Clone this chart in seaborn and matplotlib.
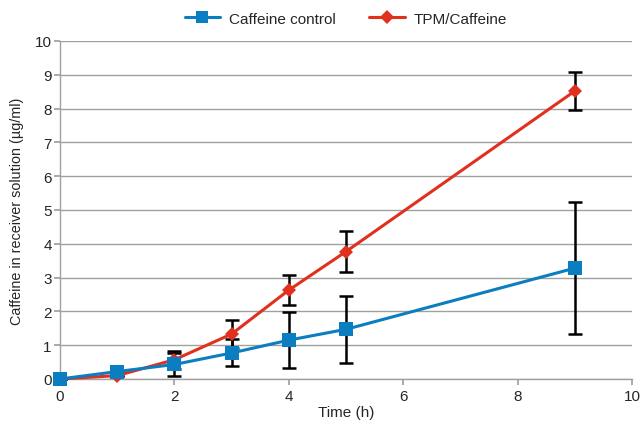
import matplotlib
matplotlib.use("Agg")
import matplotlib.pyplot as plt
import seaborn as sns
import pandas as pd

time_h = [0, 1, 2, 3, 4, 5, 9]
control = [0.0, 0.22, 0.43, 0.77, 1.15, 1.47, 3.28]
control_err = [0.0, 0.0, 0.35, 0.40, 0.82, 0.99, 1.95]
tpm = [0.0, 0.10, 0.57, 1.33, 2.63, 3.77, 8.52]
tpm_err = [0.0, 0.0, 0.27, 0.42, 0.44, 0.61, 0.57]
series_names = ["Caffeine control", "TPM/Caffeine"]

sns.set_theme(style="white")
plt.rcParams['font.family'] = ['Liberation Sans', 'DejaVu Sans']

df = pd.DataFrame({
    "Time (h)": time_h * 2,
    "value": control + tpm,
    "series": [series_names[0]] * len(time_h) + [series_names[1]] * len(time_h),
})

fig = plt.figure(figsize=(6.43, 4.27), dpi=100)
ax = fig.add_axes([60/643, 1 - 380/427, 572/643, 338/427])

blue = "#0B7DC1"
red = "#E0301E"

ax.errorbar(time_h, control, yerr=control_err, fmt="none", ecolor="black",
            elinewidth=1.8, capsize=5, capthick=1.8, zorder=2)
ax.errorbar(time_h, tpm, yerr=tpm_err, fmt="none", ecolor="black",
            elinewidth=1.8, capsize=5, capthick=1.8, zorder=2)

sns.lineplot(data=df, x="Time (h)", y="value", hue="series", style="series",
             markers={series_names[0]: "s", series_names[1]: "D"},
             dashes=False, palette={series_names[0]: blue, series_names[1]: red},
             markersize=8, markeredgewidth=0, linewidth=2.2, ax=ax)
for line in ax.get_lines():
    line.set_clip_on(False)
    if line.get_marker() == "D":
        line.set_markersize(7)
        line.set_zorder(3)
    elif line.get_marker() == "s":
        line.set_markersize(10)
        line.set_zorder(4)

ax.set_xlim(0, 10)
ax.set_ylim(0, 10)
ax.set_xticks(range(0, 11, 2))
ax.set_yticks(range(0, 11))
ax.grid(axis="y", color="#A0A0A0", linewidth=1)
ax.grid(axis="x", visible=False)
for s in ["top", "right"]:
    ax.spines[s].set_visible(False)
for s in ["left", "bottom"]:
    ax.spines[s].set_color("#A0A0A0")
    ax.spines[s].set_linewidth(1)
ax.tick_params(axis="x", bottom=True, length=4, color="#A0A0A0", labelsize=11, pad=3)
ax.tick_params(axis="y", left=True, length=4, color="#A0A0A0", labelsize=11, pad=2)
ax.set_xlabel("Time (h)", fontsize=11, labelpad=2)
ax.set_ylabel("Caffeine in receiver solution (\u00b5g/ml)", fontsize=10.4, labelpad=8)

handles, labels = ax.get_legend_handles_labels()
leg = ax.legend(handles, labels, loc="lower center", bbox_to_anchor=(0.5, 1.0), ncol=2,
                frameon=False, fontsize=11, handlelength=2.3, columnspacing=2.2,
                handletextpad=0.6, borderaxespad=0.6)
for h in leg.legend_handles:
    if h.get_marker() == "s":
        h.set_markersize(9)
    else:
        h.set_markersize(7)

fig.savefig("out.png", dpi=100)
